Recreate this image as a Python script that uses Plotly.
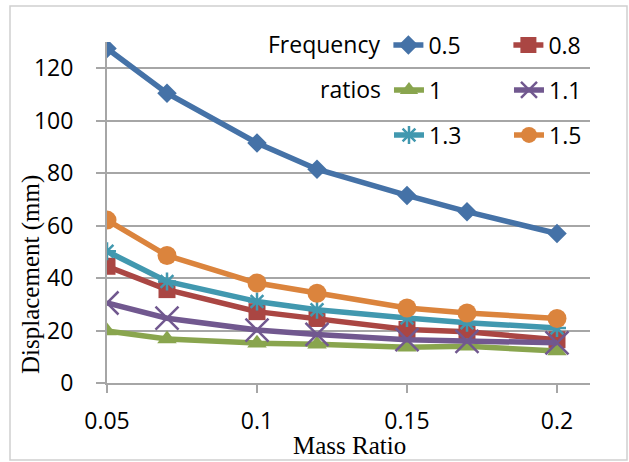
import plotly.graph_objects as go

# ---- data ----
mass_ratio = [0.05, 0.07, 0.1, 0.12, 0.15, 0.17, 0.2]
freq_05 = [127.5, 110.5, 91.5, 81.5, 71.5, 65.3, 57.0]
freq_08 = [44.5, 35.6, 27.2, 24.6, 20.4, 19.5, 16.5]
freq_10 = [19.8, 16.8, 15.2, 14.8, 13.6, 14.0, 12.2]
freq_11 = [30.5, 24.7, 20.2, 18.5, 16.5, 15.9, 15.3]
freq_13 = [50.2, 38.7, 31.1, 27.9, 24.8, 23.0, 21.0]
freq_15 = [62.1, 48.6, 38.1, 34.2, 28.6, 26.7, 24.6]
series_names = ["0.5", "0.8", "1", "1.1", "1.3", "1.5"]
x_ticks = [0.05, 0.1, 0.15, 0.2]
x_tick_text = ["0.05", "0.1", "0.15", "0.2"]
y_ticks = [0, 20, 40, 60, 80, 100, 120]

W, H = 629, 462
L, R, T, B = 107, 39, 42, 79
PW, PH = W - L - R, H - T - B


def px_x(p):
    return (p - L) / PW


def px_y(p):
    return (H - B - p) / PH


GRID = "#a6a6a6"
TICKFONT = dict(family="Open Sans", size=23, color="#000000")

styles = [
    dict(color="#4572A7", symbol="diamond", size=15, lw=0),
    dict(color="#AA4643", symbol="square", size=17, lw=0),
    dict(color="#89A54E", symbol="triangle-up", size=17, lw=0),
    dict(color="#71588F", symbol="x-thin-open", size=23, lw=2.5),
    dict(color="#4198AF", symbol="asterisk-open", size=15, lw=2.5),
    dict(color="#DB843D", symbol="circle", size=19, lw=0),
]
values = [freq_05, freq_08, freq_10, freq_11, freq_13, freq_15]
legend_ids = ["legend", "legend", "legend2", "legend2", "legend3", "legend3"]

fig = go.Figure()
for name, vals, st, lg in zip(series_names, values, styles, legend_ids):
    fig.add_trace(go.Scatter(
        x=mass_ratio, y=vals, name=name, mode="lines+markers",
        line=dict(color=st["color"], width=5.5),
        marker=dict(symbol=st["symbol"], size=st["size"], color=st["color"],
                    line=dict(color=st["color"], width=st["lw"])),
        legend=lg,
    ))

LEG_X = px_x(629)
leg_common = dict(
    orientation="h", xanchor="right", yanchor="middle",
    bgcolor="rgba(0,0,0,0)", borderwidth=0,
    font=TICKFONT, entrywidth=75, entrywidthmode="pixels",
    tracegroupgap=0, itemclick=False,
)

fig.update_layout(
    width=W, height=H,
    margin=dict(l=L, r=R, t=T, b=B, pad=0, autoexpand=False),
    paper_bgcolor="white", plot_bgcolor="white",
    showlegend=True,
    legend=dict(x=LEG_X, y=px_y(45),
                title=dict(text="Frequency", side="left", font=TICKFONT), **leg_common),
    legend2=dict(x=LEG_X, y=px_y(90),
                 title=dict(text="ratios", side="left", font=TICKFONT), **leg_common),
    legend3=dict(x=LEG_X, y=px_y(135), **leg_common),
    xaxis=dict(
        range=[0.05, 0.05 + (590 - L) / 3000.0],
        tickmode="array", tickvals=x_ticks, ticktext=x_tick_text,
        showgrid=False, zeroline=False,
        showline=True, linecolor=GRID, linewidth=2,
        ticks="outside", ticklen=8, tickwidth=2, tickcolor=GRID,
        tickfont=TICKFONT, ticklabelstandoff=8,
    ),
    yaxis=dict(
        range=[0, 130],
        tickmode="array", tickvals=y_ticks,
        showgrid=True, gridcolor=GRID, gridwidth=2,
        zeroline=False,
        showline=True, linecolor=GRID, linewidth=2,
        ticks="outside", ticklen=9, tickwidth=2, tickcolor=GRID,
        tickfont=TICKFONT, ticklabelstandoff=18,
    ),
    annotations=[
        dict(text="Mass Ratio", xref="paper", yref="paper",
             x=px_x(349), y=px_y(445), xanchor="center", yanchor="middle",
             showarrow=False,
             font=dict(family="Liberation Serif", size=25, color="#000000")),
        dict(text="Displacement (mm)", xref="paper", yref="paper",
             x=px_x(31), y=px_y(275), xanchor="center", yanchor="middle",
             textangle=-90, showarrow=False,
             font=dict(family="Liberation Serif", size=25, color="#000000")),
    ],
    shapes=[
        dict(type="rect", xref="paper", yref="paper",
             x0=px_x(10), x1=px_x(627), y0=px_y(460), y1=px_y(6),
             line=dict(color="#d0d0d0", width=1.5), layer="below"),
    ],
)

fig.write_html(
    "out.html",
    config={"displayModeBar": False},
    post_script="document.body.style.margin='0px';document.body.style.padding='0px';",
)
